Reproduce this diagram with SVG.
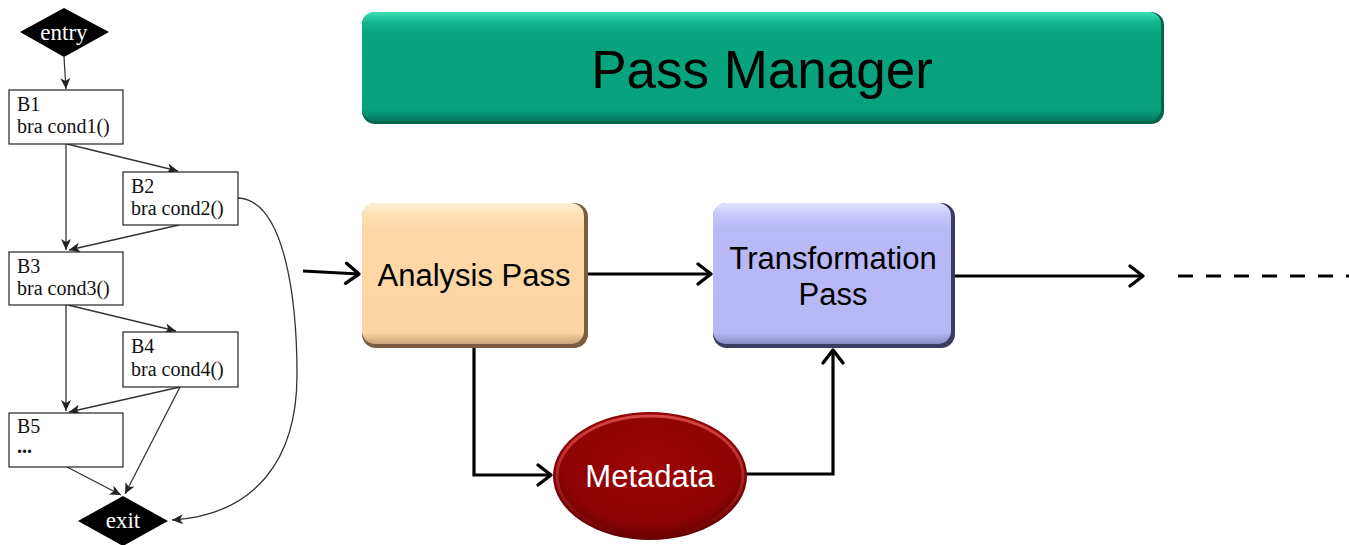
<svg xmlns="http://www.w3.org/2000/svg" width="1349" height="545" viewBox="0 0 1349 545">
  <style>
    .cfg-box { fill: #ffffff; stroke: #222222; stroke-width: 1.2; }
    .cfg-txt { font-family: "Liberation Serif", "Times New Roman", serif; font-size: 20px; fill: #111111; }
    .cfg-term { font-family: "Liberation Serif", "Times New Roman", serif; font-size: 23px; fill: #ffffff; text-anchor: middle; }
    .cfg-edge { fill: none; stroke: #333333; stroke-width: 1.3; marker-end: url(#cfgArrow); }
    .flow { fill: none; stroke: #000000; stroke-width: 3.2; }
    .flow-arrow { marker-end: url(#chevron); }
    .lbl { font-family: "Liberation Sans", Arial, sans-serif; fill: #000000; text-anchor: middle; }
  </style>
  <defs>
    <marker id="cfgArrow" viewBox="-12 -6 13 12" refX="0" refY="0" markerWidth="13" markerHeight="12" markerUnits="userSpaceOnUse" orient="auto">
      <path d="M0,0 L-11,-5 L-8,0 L-11,5 Z" fill="#222222"/>
    </marker>
    <marker id="chevron" viewBox="-16 -13 19 26" refX="0" refY="0" markerWidth="19" markerHeight="26" markerUnits="userSpaceOnUse" orient="auto">
      <path d="M-13,-10 L0,0 L-13,10" fill="none" stroke="#000000" stroke-width="3.4" stroke-linecap="round" stroke-linejoin="round"/>
    </marker>
    <linearGradient id="gGreen" x1="0" y1="0" x2="0" y2="1">
      <stop offset="0" stop-color="#3fe0b6"/>
      <stop offset="0.09" stop-color="#14b78f"/>
      <stop offset="0.2" stop-color="#08a47f"/>
      <stop offset="0.9" stop-color="#07a17d"/>
      <stop offset="1" stop-color="#05785d"/>
    </linearGradient>
    <linearGradient id="gPeach" x1="0" y1="0" x2="0" y2="1">
      <stop offset="0" stop-color="#fff0d6"/>
      <stop offset="0.08" stop-color="#fde0b5"/>
      <stop offset="0.18" stop-color="#fdd8a6"/>
      <stop offset="0.92" stop-color="#fbd5a2"/>
      <stop offset="1" stop-color="#c9a27a"/>
    </linearGradient>
    <linearGradient id="gLav" x1="0" y1="0" x2="0" y2="1">
      <stop offset="0" stop-color="#e4e4ff"/>
      <stop offset="0.08" stop-color="#c8c8fb"/>
      <stop offset="0.18" stop-color="#b9b9f8"/>
      <stop offset="0.92" stop-color="#b7b7f6"/>
      <stop offset="1" stop-color="#8a8ac4"/>
    </linearGradient>
    <radialGradient id="gRed" cx="0.5" cy="0.42" r="0.6">
      <stop offset="0" stop-color="#9c0606"/>
      <stop offset="0.75" stop-color="#8e0404"/>
      <stop offset="1" stop-color="#5e0000"/>
    </radialGradient>
    <linearGradient id="gRedHi" x1="0" y1="0" x2="0" y2="1">
      <stop offset="0" stop-color="#e05050" stop-opacity="0.85"/>
      <stop offset="1" stop-color="#e05050" stop-opacity="0"/>
    </linearGradient>
  </defs>

  <!-- control-flow graph -->
  <g id="cfg-edges">
    <path class="cfg-edge" d="M64,57 L66,89"/>
    <path class="cfg-edge" d="M67,144 L178,171"/>
    <path class="cfg-edge" d="M66,144 L66,250"/>
    <path class="cfg-edge" d="M179,225 L69,250"/>
    <path class="cfg-edge" d="M238,198 C285,200 297,300 297,375 C297,460 255,515 172,520"/>
    <path class="cfg-edge" d="M68,305 L176,331"/>
    <path class="cfg-edge" d="M66,305 L66,411"/>
    <path class="cfg-edge" d="M180,387 L69,412"/>
    <path class="cfg-edge" d="M180,387 L125,494"/>
    <path class="cfg-edge" d="M67,467 L121,495"/>
  </g>

  <g id="entry">
    <polygon points="64,8 109,32 64,57 20,32" fill="#000000"/>
    <text class="cfg-term" x="64" y="40">entry</text>
  </g>
  <g id="b1">
    <rect class="cfg-box" x="9" y="90" width="114" height="54"/>
    <text class="cfg-txt" x="17" y="111">B1</text>
    <text class="cfg-txt" x="17" y="133">bra cond1()</text>
  </g>
  <g id="b2">
    <rect class="cfg-box" x="123" y="172" width="115" height="53"/>
    <text class="cfg-txt" x="131" y="193">B2</text>
    <text class="cfg-txt" x="131" y="215">bra cond2()</text>
  </g>
  <g id="b3">
    <rect class="cfg-box" x="9" y="252" width="114" height="53"/>
    <text class="cfg-txt" x="17" y="273">B3</text>
    <text class="cfg-txt" x="17" y="295">bra cond3()</text>
  </g>
  <g id="b4">
    <rect class="cfg-box" x="123" y="332" width="115" height="55"/>
    <text class="cfg-txt" x="131" y="353">B4</text>
    <text class="cfg-txt" x="131" y="376">bra cond4()</text>
  </g>
  <g id="b5">
    <rect class="cfg-box" x="9" y="413" width="114" height="54"/>
    <text class="cfg-txt" x="17" y="433">B5</text>
    <text class="cfg-txt" x="17" y="453" font-weight="bold">...</text>
  </g>
  <g id="exit">
    <polygon points="123,496 168,521 123,546 78,521" fill="#000000"/>
    <text class="cfg-term" x="123" y="528">exit</text>
  </g>

  <!-- pass pipeline connectors -->
  <g id="flow-edges">
    <path class="flow flow-arrow" d="M303,271 L359,274"/>
    <path class="flow flow-arrow" d="M588,274 L711,274"/>
    <path class="flow flow-arrow" d="M955,276 L1143,276"/>
    <path class="flow" d="M1178,276 L1349,276" stroke-dasharray="15 13"/>
    <path class="flow flow-arrow" d="M474,347 L474,475 L551,475"/>
    <path class="flow flow-arrow" d="M746,474 L833,474 L833,350"/>
  </g>

  <g id="pass-manager">
    <rect x="362" y="12" width="802" height="112" rx="13" fill="#04654e"/>
    <rect x="362" y="12" width="799" height="109" rx="12" fill="url(#gGreen)"/>
    <text class="lbl" x="762" y="88" font-size="53">Pass Manager</text>
  </g>

  <g id="analysis-pass">
    <rect x="362" y="203" width="226" height="145" rx="14" fill="#7a5c40"/>
    <rect x="362" y="203" width="222" height="141" rx="13" fill="url(#gPeach)"/>
    <text class="lbl" x="474" y="286" font-size="31">Analysis Pass</text>
  </g>

  <g id="transformation-pass">
    <rect x="713" y="203" width="242" height="145" rx="14" fill="#3c3c60"/>
    <rect x="713" y="203" width="238" height="141" rx="13" fill="url(#gLav)"/>
    <text class="lbl" x="833" y="269" font-size="31">Transformation</text>
    <text class="lbl" x="833" y="305" font-size="31">Pass</text>
  </g>

  <g id="metadata">
    <ellipse cx="650" cy="476" rx="97" ry="64" fill="url(#gRed)"/>
    <ellipse cx="650" cy="476" rx="93" ry="60" fill="none" stroke="url(#gRedHi)" stroke-width="3"/>
    <text class="lbl" x="650" y="487" font-size="31" style="fill:#ffffff">Metadata</text>
  </g>
</svg>
